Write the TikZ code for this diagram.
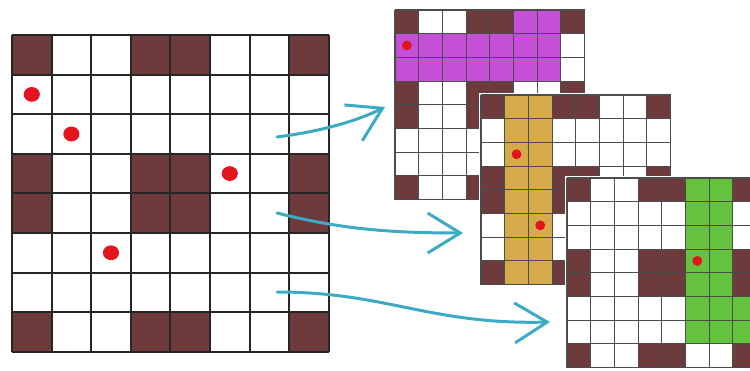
\documentclass[tikz,border=0pt]{standalone}
\usepackage{tikz}
\usetikzlibrary{arrows.meta}
\definecolor{cellBrown}{HTML}{6E3B3D}
\definecolor{hiPurple}{HTML}{C350D7}
\definecolor{hiGold}{HTML}{D6A94A}
\definecolor{hiGreen}{HTML}{64C23C}
\definecolor{flowTeal}{HTML}{3CAAC3}
\definecolor{dotRed}{HTML}{E3141E}
\tikzset{
  brownsq/.style   = {fill=cellBrown},
  bigline/.style   = {draw=black!85, line width=1.2pt},
  smallline/.style = {draw=black!70, line width=0.6pt},
  bigdot/.style    = {fill=dotRed},
  fl/.style        = {-{Straight Barb[length=6.5mm, width=8mm]}, draw=flowTeal,
                      line width=1.7pt, line cap=round}
}
\newcommand{\boardcells}{%
  \fill[white] (0,0) rectangle (8,8);
  \foreach \r in {0,3,4,7} {\foreach \c in {0,3,4,7} {\fill[brownsq] (\c,\r) rectangle ++(1,1);}}}
\newcommand{\boardlines}[1]{%
  \foreach \i in {0,...,8} {\draw[#1] (\i,0) -- (\i,8); \draw[#1] (0,\i) -- (8,\i);}}

\begin{document}
\begin{tikzpicture}[x=0.02cm, y=-0.02cm]
  \useasboundingbox (0,0) rectangle (750,371);
  \clip (0,0) rectangle (750,371);
  % full board
  \begin{scope}[shift={(12,35)}, x=0.792cm, y=-0.792cm]
    \boardcells
    \boardlines{bigline}
    \foreach \c/\r in {0/1, 1/2, 5/3, 2/5}
      \fill[bigdot] (\c+.5,\r+.5) circle[x radius=4.6pt, y radius=4.2pt];
  \end{scope}
  % row block
  \begin{scope}[shift={(395,10)}, x=0.474cm, y=-0.474cm]
    \boardcells
    \fill[hiPurple] (0,1) rectangle (7,3);
    \fill[hiPurple] (5,0) rectangle (7,1);
    \boardlines{smallline}
    \fill[bigdot] (0.5,1.5) circle[radius=2.8pt];
  \end{scope}
  % column block
  \begin{scope}[shift={(481,95)}, x=0.474cm, y=-0.474cm]
    \fill[white] (-0.1,-0.1) rectangle (8.1,8.1);
    \boardcells
    \fill[hiGold] (1,0) rectangle (3,8);
    \boardlines{smallline}
    \foreach \c/\r in {1/2, 2/5}
      \fill[bigdot] (\c+.5,\r+.5) circle[radius=2.8pt];
  \end{scope}
  % corner block
  \begin{scope}[shift={(567,178)}, x=0.474cm, y=-0.474cm]
    \fill[white] (-0.1,-0.1) rectangle (8.1,8.1);
    \boardcells
    \fill[hiGreen] (5,0) rectangle (7,7);
    \fill[hiGreen] (7,5) rectangle (8,7);
    \boardlines{smallline}
    \fill[bigdot] (5.5,3.5) circle[radius=2.8pt];
  \end{scope}
  % arrows
  \coordinate (src1) at (277,137); \coordinate (dst1) at (385,107);
  \coordinate (src2) at (277,213); \coordinate (dst2) at (463,233);
  \coordinate (src3) at (277,292); \coordinate (dst3) at (550,322);
  \draw[fl] (src1) .. controls +(40,-5) and +(-30,15) .. (dst1);
  \draw[fl] (src2) .. controls +(60,15) and +(-80,0) .. (dst2);
  \draw[fl] (src3) .. controls +(110,0) and +(-120,3) .. (dst3);
\end{tikzpicture}
\end{document}
